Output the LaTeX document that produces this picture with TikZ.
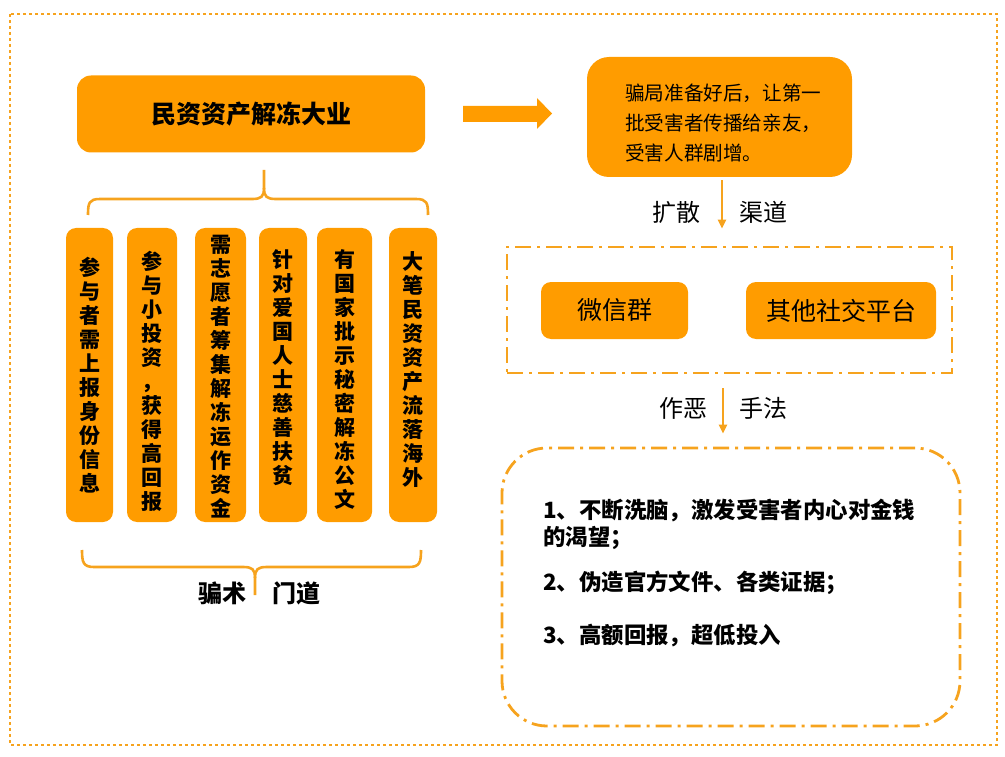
\documentclass[tikz,border=0pt]{standalone}
\usepackage{fontspec}
\setmainfont{Noto Sans CJK SC}
\usetikzlibrary{arrows.meta}
\definecolor{boxor}{HTML}{FF9C00}
\definecolor{lineor}{HTML}{F6A31E}
\begin{document}
\begin{tikzpicture}[x=1pt,y=-1pt,
  box/.style={fill=boxor, rounded corners=10pt, inner sep=0pt, align=center, text=black},
  vbox/.style={box, minimum width=#1, minimum height=294pt},
  vtext/.style={inner sep=0pt, align=center, font=\fontsize{21}{24}\selectfont\bfseries},
  dashdot/.style={draw=lineor, line width=2.8pt, dash pattern=on 16pt off 6pt on 3pt off 6pt},
  bracel/.style={draw=lineor, line width=2.6pt},
  flow/.style={draw=lineor, line width=2.2pt, -{Triangle[width=8pt,length=9pt]}},
  lab/.style={font=\fontsize{24}{28}\selectfont, inner sep=0pt},
  blab/.style={font=\fontsize{24}{28}\selectfont\bfseries, inner sep=0pt},
  item/.style={font=\fontsize{22.4}{27}\selectfont\bfseries, align=left, anchor=west, inner sep=0pt}
]
\useasboundingbox (0,0) rectangle (1005,757);
% outer dotted frame
\draw[lineor, line width=2.8pt, dash pattern=on 2.8pt off 3.2pt] (10,14) rectangle (997,745);

% title
\node[box, rounded corners=14pt, minimum width=348pt, minimum height=77pt,
      font=\fontsize{25}{30}\selectfont\bfseries] (t) at (251,114) {民资资产解冻大业};

% top brace
\draw[bracel] (88,215) .. controls (88,203) and (89,199) .. (100,199) -- (252,199)
  .. controls (261,199) and (264,197) .. (264,188) -- (264,170);
\draw[bracel] (428,215) .. controls (428,203) and (427,199) .. (416,199) -- (276,199)
  .. controls (267,199) and (264,197) .. (264,188);

% vertical boxes
\node[vbox=47pt] (v1) at (89.5,375) {};
\node[vbox=50pt] (v2) at (152,375) {};
\node[vbox=51pt] (v3) at (220.5,375) {};
\node[vbox=48pt] (v4) at (283,375) {};
\node[vbox=55pt] (v5) at (344.5,375) {};
\node[vbox=48pt] (v6) at (413,375) {};
\node[vtext] (v1t) at (v1) {参\\与\\者\\需\\上\\报\\身\\份\\信\\息};
\node[vtext] (v2t) at ([yshift=-6pt]v2) {参\\与\\小\\投\\资\\，\\获\\得\\高\\回\\报};
\node[vtext] (v3t) at ([yshift=-2pt]v3) {需\\志\\愿\\者\\筹\\集\\解\\冻\\运\\作\\资\\金};
\node[vtext] (v4t) at ([yshift=7pt]v4) {针\\对\\爱\\国\\人\\士\\慈\\善\\扶\\贫};
\node[vtext] (v5t) at ([yshift=-4pt]v5) {有\\国\\家\\批\\示\\秘\\密\\解\\冻\\公\\文};
\node[vtext] (v6t) at ([yshift=5pt]v6) {大\\笔\\民\\资\\资\\产\\流\\落\\海\\外};

% bottom brace
\draw[bracel] (82,550) .. controls (82,562) and (83,567) .. (94,567) -- (243,567)
  .. controls (252,567) and (255,569) .. (255,578) -- (255,595);
\draw[bracel] (421,550) .. controls (421,562) and (420,567) .. (409,567) -- (267,567)
  .. controls (258,567) and (255,569) .. (255,578);
\node[blab] (pz) at (222,593) {骗术};
\node[blab] (md) at (296,593) {门道};

% big arrow
\fill[boxor] (463,106) -- (537,106) -- (537,98) -- (552,113.5) -- (537,129) -- (537,122) -- (463,122) -- cycle;

% top-right box
\node[box, rounded corners=22pt, minimum width=265pt, minimum height=120pt] (tr) at (719.5,117) {};
\node[anchor=west, align=left, inner sep=0pt, font=\fontsize{19.6}{30}\selectfont] (trt) at (625,123)
  {骗局准备好后，让第一\\批受害者传播给亲友，\\受害人群剧增。};

% channels box
\node[dashdot, minimum width=445pt, minimum height=126pt, inner sep=0pt] (chan) at (729.5,310) {};
\node[box, minimum width=147pt, minimum height=57pt, font=\fontsize{25}{30}\selectfont] (wx) at (614.5,310.5) {微信群};
\node[box, minimum width=190pt, minimum height=57pt, font=\fontsize{25}{30}\selectfont] (qt) at (841,310.5) {其他社交平台};

\coordinate (ax1) at (722,0);
\coordinate (ax2) at (723,0);
\draw[flow, shorten <=3pt, shorten >=17pt] (tr.south -| ax1) -- (chan.north -| ax1);
\node[lab] (ks) at (676,212) {扩散};
\node[lab] (qd) at (763,212) {渠道};

% methods box
\node[dashdot, rounded corners=45pt, minimum width=458pt, minimum height=278pt, inner sep=0pt] (bot) at (731,587) {};
\draw[flow, shorten <=14pt, shorten >=13pt] (chan.south -| ax2) -- (bot.north -| ax2);
\node[lab] (ze) at (683,408) {作恶};
\node[lab] (sf) at (763,408) {手法};

\node[item] (i1) at (543,524.5) {1、不断洗脑，激发受害者内心对金钱\\的渴望；};
\node[item] (i2) at (543,583) {2、伪造官方文件、各类证据；};
\node[item] (i3) at (543,636) {3、高额回报，超低投入};
\end{tikzpicture}
\end{document}
